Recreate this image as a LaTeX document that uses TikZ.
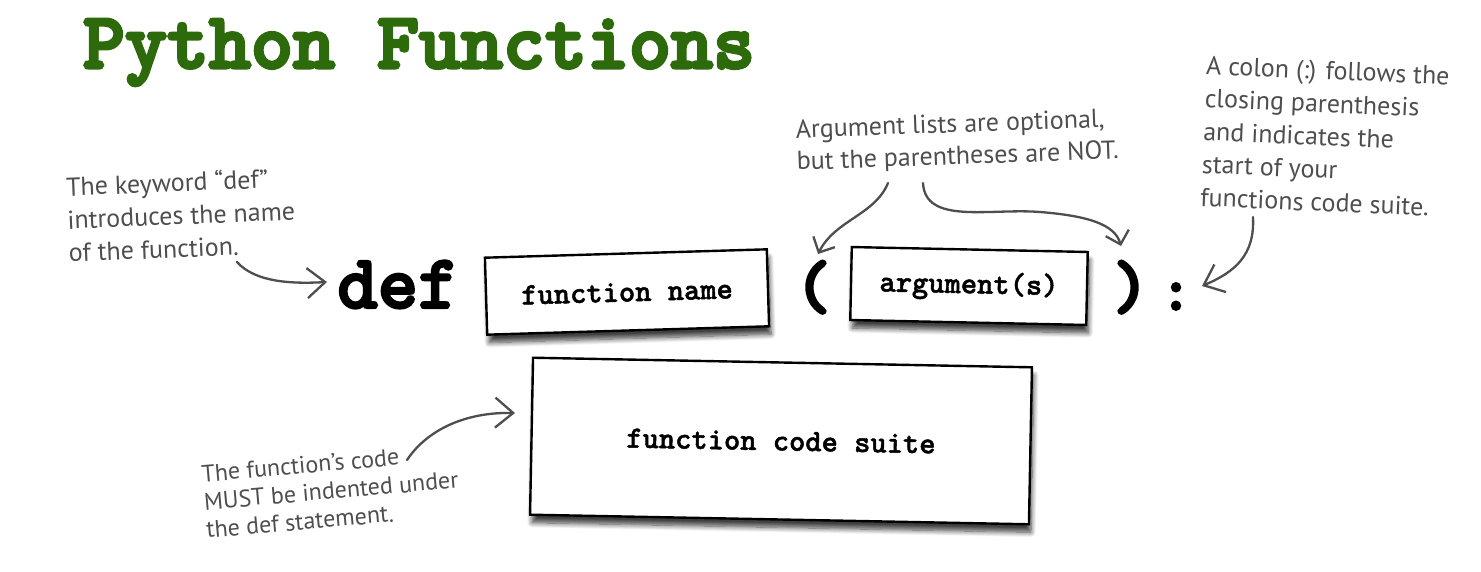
\documentclass[tikz,border=0pt]{standalone}
\usepackage{fontspec}
\setmainfont{PT Sans}
\newfontfamily\handfont{PT Sans}
\newfontfamily\twA{lmmonolt10-bold}[Extension=.otf, FakeBold=1.5]
\newfontfamily\twB{lmmonolt10-bold}[Extension=.otf, FakeBold=3]
\newfontfamily\twC{lmmonolt10-bold}[Extension=.otf, FakeBold=4]
\usetikzlibrary{arrows.meta,shadows.blur}
\definecolor{titlegreen}{RGB}{45,106,12}
\definecolor{handgray}{RGB}{78,78,78}
\begin{document}
\begin{tikzpicture}[x=1pt,y=-1pt,
  hand/.style={font=\handfont\fontsize{26}{33}\selectfont, text=handgray, align=left, inner sep=0pt, anchor=base west},
  codebox/.style={draw=black, line width=2.4pt, fill=white, inner sep=0pt,
    font=\twA\fontsize{31}{34}\selectfont,
    blur shadow={shadow xshift=2pt, shadow yshift=-8pt, shadow blur radius=5pt, shadow blur steps=8, shadow opacity=75}},
  bigcode/.style={font=\twB\fontsize{77}{80}\selectfont, inner sep=0pt, anchor=base},
  notearrow/.style={draw=handgray, line width=2.3pt, line cap=round,
    -{Straight Barb[length=18pt,width=30pt,line width=2.3pt]}},
  smallarrow/.style={draw=handgray, line width=2.3pt, line cap=round,
    -{Straight Barb[length=12pt,width=24pt,line width=2.3pt]}}
]
\useasboundingbox (0,0) rectangle (1481,572);

% title
\node[font=\twC\fontsize{80}{82}\selectfont, text=titlegreen, inner sep=0pt, anchor=base]
  (title) at (419,68) {Python Functions};

% code parts
\node[bigcode] (def) at (398,308) {def};
\node[codebox, minimum width=282pt, minimum height=77pt, rotate=1.7] (fname) at (627,292) {function name};
\node[bigcode, font=\twC\fontsize{68}{70}\selectfont] (lpar) at (813,308) {(};
\node[codebox, minimum width=236pt, minimum height=73pt, rotate=-1.2] (args) at (969,286) {argument(s)};
\node[bigcode, font=\twC\fontsize{68}{70}\selectfont] (rpar) at (1131,308) {)};
\node[bigcode, font=\twB\fontsize{62}{64}\selectfont] (colon) at (1176,310) {:};
\node[codebox, minimum width=499pt, minimum height=157pt, rotate=-1.1] (suite) at (781,441) {function code suite};

% annotations (anchored at the baseline of the last line)
\node[hand, rotate=2.3] (n1) at (69,262) {The keyword “def”\\introduces the name\\of the function.};
\node[hand, rotate=2, font=\handfont\fontsize{26}{32}\selectfont] (n2) at (797,170) {Argument lists are optional,\\but the parentheses are NOT.};
\node[hand, rotate=-2.5] (n3) at (1200,206) {A colon (:) follows the\\closing parenthesis\\and indicates the\\start of your\\functions code suite.};
\node[hand, rotate=5, font=\handfont\fontsize{24}{28}\selectfont] (n4) at (207,538) {The function’s code\\MUST be indented under\\the def statement.};

% arrow endpoints
\coordinate (a1s) at (237,262);
\coordinate (a1e) at (327,282);
\coordinate (a2s) at (888,183);
\coordinate (a2e) at (818,254);
\coordinate (a3s) at (923,183);
\coordinate (a3m) at (1040,212);
\coordinate (a3e) at (1121,246);
\coordinate (a4s) at (1253,217);
\coordinate (a4e) at (1202,286);
\coordinate (a5s) at (407,460);
\coordinate (a5e) at (515,413);

\draw[notearrow] (a1s) .. controls (255,282) and (290,284) .. (a1e);
\draw[smallarrow] (a2s) .. controls (875,215) and (835,220) .. (a2e);
\draw[smallarrow] (a3s) .. controls (925,225) and (990,208) .. (a3m) .. controls (1090,216) and (1115,225) .. (a3e);
\draw[notearrow] (a4s) .. controls (1255,255) and (1235,272) .. (a4e);
\draw[notearrow] (a5s) .. controls (427,430) and (465,412) .. (a5e);
\end{tikzpicture}
\end{document}
